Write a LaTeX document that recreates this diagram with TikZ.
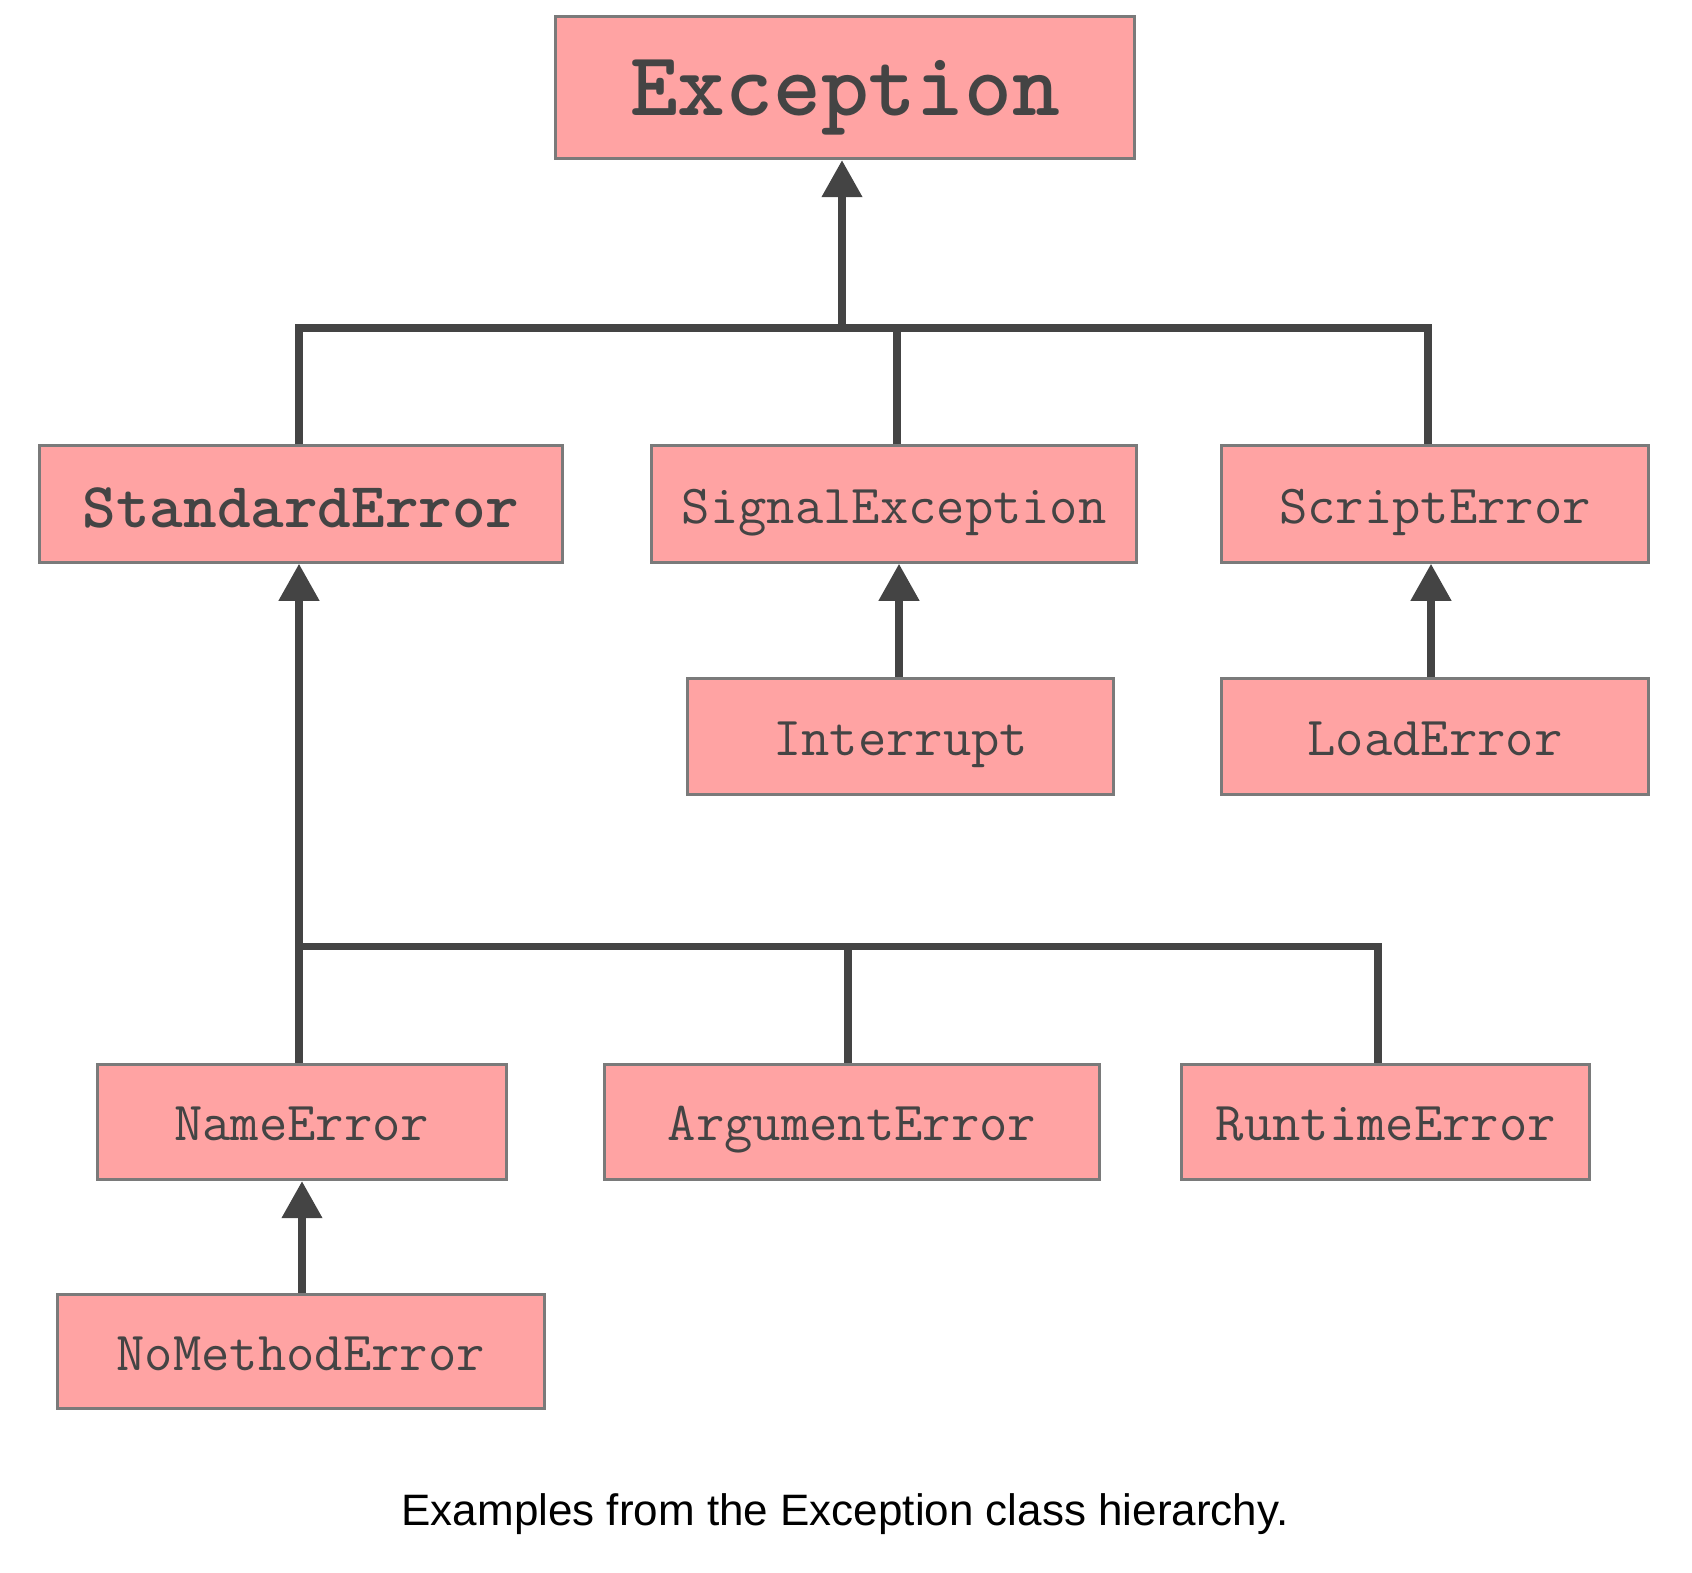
\documentclass[tikz,border=0pt]{standalone}
\usepackage{fontspec}
\setmainfont{Liberation Sans}
\usetikzlibrary{arrows.meta}
\definecolor{boxfill}{HTML}{FFA3A3}
\definecolor{boxline}{HTML}{7A7A7A}
\definecolor{ink}{HTML}{444444}
\begin{document}
\begin{tikzpicture}[x=1pt,y=-1pt,
  cls/.style={draw=boxline, fill=boxfill, line width=3pt, inner sep=0pt,
    text=ink, font=\ttfamily\fontsize{55}{55}\selectfont,
    text height=38pt, text depth=0pt, minimum height=116pt},
  boldcls/.style={cls, font=\ttfamily\bfseries\fontsize{64}{64}\selectfont, text height=46pt},
  conn/.style={draw=ink, line width=7.5pt, line join=miter},
  inherit/.style={conn, -{Triangle[length=37pt,width=39pt]}}
]
\useasboundingbox (0,0) rectangle (1692,1572);

\node[cls, font=\ttfamily\bfseries\fontsize{91}{91}\selectfont, text height=56pt,
      minimum width=578.5pt, minimum height=142.5pt] (exc) at (845,87.4) {Exception};

\node[boldcls, minimum width=522.4pt, minimum height=116.5pt] (std) at (301.1,504) {StandardError};
\node[cls, minimum width=484.6pt, minimum height=116.5pt] (sig) at (894.2,504) {SignalException};
\node[cls, minimum width=426.3pt, minimum height=116.5pt] (scr) at (1435,504) {ScriptError};

\node[cls, minimum width=426.3pt] (intr) at (900.7,736.1) {Interrupt};
\node[cls, minimum width=426.3pt] (load) at (1435,736.1) {LoadError};

\node[cls, minimum width=409pt, minimum height=115.5pt] (name) at (301.7,1121.9) {NameError};
\node[cls, minimum width=495.4pt, minimum height=115.5pt] (arg) at (852.1,1121.9) {ArgumentError};
\node[cls, minimum width=408pt, minimum height=115.5pt] (run) at (1385.8,1121.9) {RuntimeError};

\node[cls, minimum width=486.8pt, minimum height=114.4pt] (nometh) at (300.6,1351.3) {NoMethodError};

\node[font=\fontsize{44}{44}\selectfont, text=black] (cap) at (845,1514.3)
  {Examples from the Exception class hierarchy.};

% upper bus
\coordinate (b1) at (842,328);
\draw[conn] (std.north -| 299,0) |- (b1) -| (scr.north -| 1428,0);
\draw[conn] (sig.north -| 897,0) -- (897,328);
\draw[inherit] (b1) -- (b1 |- exc.south);

\draw[inherit] (intr.north -| 899,0) -- (sig.south -| 899,0);
\draw[inherit] (load.north -| 1431,0) -- (scr.south -| 1431,0);

% lower bus
\coordinate (b2) at (299,946.5);
\draw[inherit] (name.north -| 299,0) -- (std.south -| 299,0);
\draw[conn] (b2) -| (run.north -| 1378,0);
\draw[conn] (arg.north -| 848,0) -- (848,946.5);

\draw[inherit] (nometh.north -| 302,0) -- (name.south -| 302,0);
\end{tikzpicture}
\end{document}
